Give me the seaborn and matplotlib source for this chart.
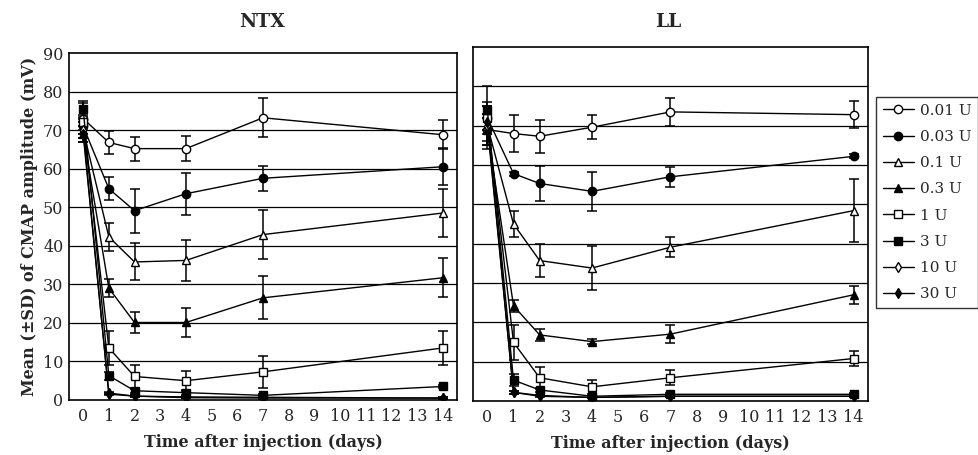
import numpy as np
import pandas as pd
import matplotlib
matplotlib.use("Agg")
import matplotlib.pyplot as plt
import seaborn as sns
from matplotlib.lines import Line2D

days = [0, 1, 2, 4, 7, 14]
doses = ["0.01 U", "0.03 U", "0.1 U", "0.3 U", "1 U", "3 U", "10 U", "30 U"]
markers = ["o", "o", "^", "^", "s", "s", "d", "d"]
filled = [False, True, False, True, False, True, False, True]

# NTX panel: means and SD
ntx_mean = {
    "0.01 U": [73, 66.8, 65.2, 65.2, 73.2, 68.8],
    "0.03 U": [71, 54.8, 49.1, 53.5, 57.5, 60.5],
    "0.1 U": [70, 42.3, 35.8, 36.2, 42.9, 48.5],
    "0.3 U": [69, 29.0, 20.1, 20.1, 26.5, 31.7],
    "1 U": [72, 13.5, 6.1, 5.0, 7.3, 13.5],
    "3 U": [75.5, 6.3, 2.4, 1.9, 1.2, 3.5],
    "10 U": [70, 1.5, 1.0, 0.8, 0.7, 0.5],
    "30 U": [69, 1.8, 1.0, 0.6, 0.5, 0.5],
}
ntx_sd = {
    "0.01 U": [4, 3.0, 3.1, 3.2, 5.1, 3.7],
    "0.03 U": [2, 3.0, 5.7, 5.5, 3.3, 4.8],
    "0.1 U": [2, 3.7, 4.8, 5.4, 6.4, 6.2],
    "0.3 U": [2, 2.3, 2.7, 3.8, 5.6, 5.0],
    "1 U": [2, 4.5, 2.9, 2.5, 4.1, 4.3],
    "3 U": [2, 1.0, 0.5, 0.5, 0.3, 0.5],
    "10 U": [2, 0.3, 0.2, 0.2, 0.2, 0.2],
    "30 U": [2, 0.3, 0.2, 0.2, 0.2, 0.2],
}
# LL panel: means and SD
ll_mean = {
    "0.01 U": [69, 68.0, 67.3, 69.6, 73.5, 72.8],
    "0.03 U": [72, 57.8, 55.3, 53.3, 57.0, 62.2],
    "0.1 U": [70, 45.0, 35.7, 33.8, 39.1, 48.4],
    "0.3 U": [69, 24.2, 16.8, 15.1, 17.0, 27.0],
    "1 U": [72, 14.9, 5.9, 3.6, 5.9, 10.8],
    "3 U": [74, 5.3, 2.8, 1.2, 1.7, 1.7],
    "10 U": [70, 2.2, 1.2, 0.9, 1.2, 1.2],
    "30 U": [71, 2.2, 1.4, 0.9, 1.2, 1.2],
}
ll_sd = {
    "0.01 U": [4, 4.6, 4.2, 3.1, 3.5, 3.5],
    "0.03 U": [8, 0.5, 4.5, 5.0, 2.5, 0.5],
    "0.1 U": [5, 3.2, 4.3, 5.6, 2.5, 8.0],
    "0.3 U": [3, 1.5, 1.5, 0.7, 2.2, 2.3],
    "1 U": [3, 4.5, 2.8, 1.7, 1.9, 2.0],
    "3 U": [2, 1.5, 0.6, 0.3, 0.3, 0.3],
    "10 U": [2, 0.3, 0.2, 0.2, 0.2, 0.2],
    "30 U": [2, 0.3, 0.2, 0.2, 0.2, 0.2],
}
panel_titles = ["NTX", "LL"]
x_ticks = list(range(0, 15))
y_ticks = list(range(0, 100, 10))

sns.set_theme(style="white")
plt.rcParams["font.family"] = ["DejaVu Serif"]
plt.rcParams["axes.edgecolor"] = "black"
plt.rcParams["axes.linewidth"] = 1.2

fig = plt.figure(figsize=(9.79, 4.55), dpi=100)
ax1 = fig.add_axes([0.0705, 0.1209, 0.3963, 0.7626])
ax2 = fig.add_axes([0.4831, 0.1187, 0.4035, 0.7780])

for ax, means, sds in [(ax1, ntx_mean, ntx_sd), (ax2, ll_mean, ll_sd)]:
    for yv in range(10, 90, 10):
        ax.axhline(yv, color="black", lw=0.9, zorder=0)
    for dose, mk, fl in zip(doses, markers, filled):
        df = pd.DataFrame({"day": days, "amp": means[dose]})
        ax.errorbar(days, means[dose], yerr=sds[dose], fmt="none", ecolor="black",
                    elinewidth=1.1, capsize=3.5, capthick=1.1, zorder=2)
        sns.lineplot(data=df, x="day", y="amp", ax=ax, color="black", lw=1.0,
                     marker=mk, markersize=6 if mk != "d" else 5,
                     markerfacecolor="black" if fl else "white",
                     markeredgecolor="black", markeredgewidth=1.0, zorder=3)
    ax.set_xlim(-0.55, 14.55)
    ax.set_ylim(0, 90)
    ax.set_xticks(x_ticks)
    ax.set_xticklabels([str(t) for t in x_ticks], fontsize=11.5)
    ax.tick_params(axis="x", direction="in", length=5, width=1, color="black", pad=6)
    ax.set_yticks(y_ticks)
    ax.tick_params(axis="y", length=0, pad=4)
    ax.set_xlabel("Time after injection (days)", fontsize=11.5, fontweight="bold", labelpad=6)
    ax.set_ylabel("")
    for s in ax.spines.values():
        s.set_visible(True)
        s.set_color("black")

ax1.set_yticklabels([str(t) for t in y_ticks], fontsize=11.5)
ax2.set_yticklabels([])
ax1.set_ylabel("Mean (\u00b1SD) of CMAP amplitude (mV)", fontsize=11.5, fontweight="bold", labelpad=4)

fig.text(0.268, 0.952, panel_titles[0], ha="center", va="center", fontsize=13.5, fontweight="bold")
fig.text(0.683, 0.952, panel_titles[1], ha="center", va="center", fontsize=13.5, fontweight="bold")

handles = [Line2D([0], [0], color="black", lw=1.0, marker=mk,
                  markersize=6 if mk != "d" else 5,
                  markerfacecolor="black" if fl else "white", markeredgecolor="black")
           for mk, fl in zip(markers, filled)]
leg = fig.legend(handles, doses, loc="upper left", bbox_to_anchor=(0.895, 0.787),
                 frameon=True, fancybox=False, fontsize=11, handlelength=2.0,
                 handletextpad=0.4, labelspacing=0.8, borderpad=0.45, borderaxespad=0)
leg.get_frame().set_edgecolor("black")
leg.get_frame().set_linewidth(1.0)

fig.savefig("out.png", dpi=100)
